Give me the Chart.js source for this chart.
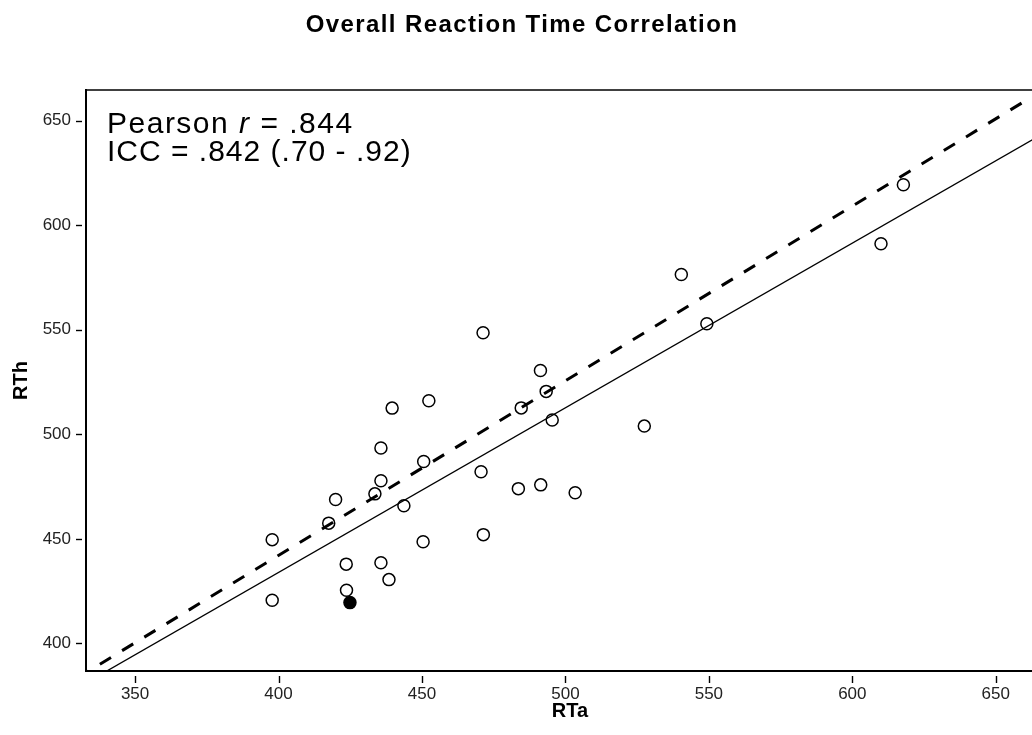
<!DOCTYPE html>
<html><head><meta charset="utf-8">
<script src="https://cdn.jsdelivr.net/npm/chart.js@4"></script>
<style>html,body{margin:0;padding:0;background:#fff;}canvas{display:block;}</style>
</head><body>
<canvas id="c" width="1032" height="735"></canvas>
<script>
// ---- data ----
const rtaOpen = [397.8, 397.8, 419.9, 417.5, 423.6, 423.7, 433.6, 435.7, 435.7, 439.6, 435.7, 438.5, 443.7, 450.6, 450.4, 452.4,
                 470.6, 471.3, 471.4, 483.6, 484.6, 491.3, 493.3, 495.4, 491.4, 503.4, 527.5, 540.4, 549.3, 610.0, 617.8];
const rthOpen = [449.6, 420.6, 468.8, 457.5, 437.9, 425.4, 471.5, 477.8, 493.4, 512.5, 438.6, 430.5, 465.8, 487.0, 448.6, 516.0,
                 482.1, 548.5, 452.0, 474.0, 512.6, 530.5, 520.5, 506.8, 475.8, 472.0, 503.9, 576.4, 552.8, 591.1, 619.3];
const rtaFilled = [424.9];
const rthFilled = [419.5];
const xTicks = [350, 400, 450, 500, 550, 600, 650];
const yTicks = [400, 450, 500, 550, 600, 650];
const lineX = [330, 675];
const fitSolidY = [378.8, 650.4];
const dashedY = [383.6, 671.7];
const titleText = 'Overall Reaction Time Correlation';
const xTitle = 'RTa';
const yTitle = 'RTh';
const statLine1 = ['Pearson ', 'r', ' = .844'];
const statLine2 = 'ICC = .842 (.70 - .92)';

const FONT = "'Liberation Sans', Arial, sans-serif";
const OVER = 22; // the plot frame continues past the right edge of the picture
const toPts = (xs, ys) => xs.map((x, i) => ({x: x, y: ys[i]}));

const extendRight = {
  id: 'extendRight',
  afterLayout(chart) {
    const ca = chart.chartArea, xs = chart.scales.x;
    ca.right += OVER; ca.width += OVER;
    xs.right += OVER; xs.width += OVER;
    xs.configure();
    xs._labelItems = null; xs._gridLineItems = null;
  }
};

const decor = {
  id: 'decor',
  afterDraw(chart) {
    const ctx = chart.ctx, ca = chart.chartArea;
    const xs = chart.scales.x, ys = chart.scales.y;
    ctx.save();
    ctx.strokeStyle = '#000';
    // top frame
    ctx.lineWidth = 1.6;
    ctx.beginPath(); ctx.moveTo(ca.left - 1, ca.top); ctx.lineTo(chart.width, ca.top); ctx.stroke();
    // tick marks with a small gap from the axis
    ctx.lineWidth = 1.4;
    yTicks.forEach(v => {
      const p = Math.round(ys.getPixelForValue(v)) + 0.5;
      ctx.beginPath(); ctx.moveTo(ca.left - 10, p); ctx.lineTo(ca.left - 4, p); ctx.stroke();
    });
    xTicks.forEach(v => {
      const p = Math.round(xs.getPixelForValue(v)) + 0.5;
      ctx.beginPath(); ctx.moveTo(p, ca.bottom + 5); ctx.lineTo(p, ca.bottom + 12); ctx.stroke();
    });
    // title
    ctx.fillStyle = '#000';
    ctx.font = 'bold 24px ' + FONT;
    ctx.letterSpacing = '1.4px';
    ctx.textAlign = 'center';
    ctx.textBaseline = 'alphabetic';
    ctx.fillText(titleText, 522, 32);
    // statistics text
    ctx.textAlign = 'left';
    ctx.letterSpacing = '1.5px';
    let x = 107;
    const fonts = ['30px ' + FONT, 'italic 30px ' + FONT, '30px ' + FONT];
    statLine1.forEach((t, i) => {
      ctx.font = fonts[i];
      ctx.fillText(t, x, 133);
      x += ctx.measureText(t).width;
    });
    ctx.letterSpacing = '1px';
    ctx.font = '30px ' + FONT;
    ctx.fillText(statLine2, 107, 161);
    ctx.restore();
  }
};

new Chart(document.getElementById('c'), {
  type: 'scatter',
  data: {
    datasets: [
      { data: toPts(lineX, dashedY), showLine: true, borderColor: '#000', borderWidth: 3, borderDash: [13, 13],
        pointRadius: 0, fill: false },
      { data: toPts(lineX, fitSolidY), showLine: true, borderColor: '#000', borderWidth: 1.3,
        pointRadius: 0, fill: false },
      { data: toPts(rtaOpen, rthOpen), pointRadius: 6, pointBorderWidth: 1.5, pointBorderColor: '#000',
        pointBackgroundColor: 'rgba(255,255,255,0)', showLine: false },
      { data: toPts(rtaFilled, rthFilled), pointRadius: 6, pointBorderWidth: 1.5, pointBorderColor: '#000',
        pointBackgroundColor: '#000', showLine: false }
    ]
  },
  options: {
    responsive: false,
    animation: false,
    layout: { autoPadding: false, padding: { top: 90, right: 0, left: 0, bottom: 0 } },
    plugins: { legend: { display: false }, tooltip: { enabled: false }, title: { display: false } },
    scales: {
      x: {
        type: 'linear', min: 332.9, max: 670.3,
        afterBuildTicks: s => { s.ticks = xTicks.map(v => ({value: v})); },
        afterFit: s => { s.height = 64; },
        grid: { display: false, drawTicks: false },
        border: { display: true, color: '#000', width: 2 },
        ticks: { padding: 13, color: '#222', font: { family: FONT, size: 17 }, maxRotation: 0, autoSkip: false },
        title: { display: true, text: xTitle, color: '#000', font: { family: FONT, size: 20, weight: 'bold' },
                 padding: { top: 0, bottom: 12 } }
      },
      y: {
        type: 'linear', min: 386.8, max: 664.6,
        afterBuildTicks: s => { s.ticks = yTicks.map(v => ({value: v})); },
        afterFit: s => { s.width = 86; },
        grid: { display: false, drawTicks: false },
        border: { display: true, color: '#000', width: 2 },
        ticks: { padding: 15, color: '#222', font: { family: FONT, size: 17 }, autoSkip: false },
        title: { display: true, text: yTitle, color: '#000', font: { family: FONT, size: 20, weight: 'bold' },
                 padding: { top: 9, bottom: 0 } }
      }
    }
  },
  plugins: [extendRight, decor]
});
</script>
</body></html>
